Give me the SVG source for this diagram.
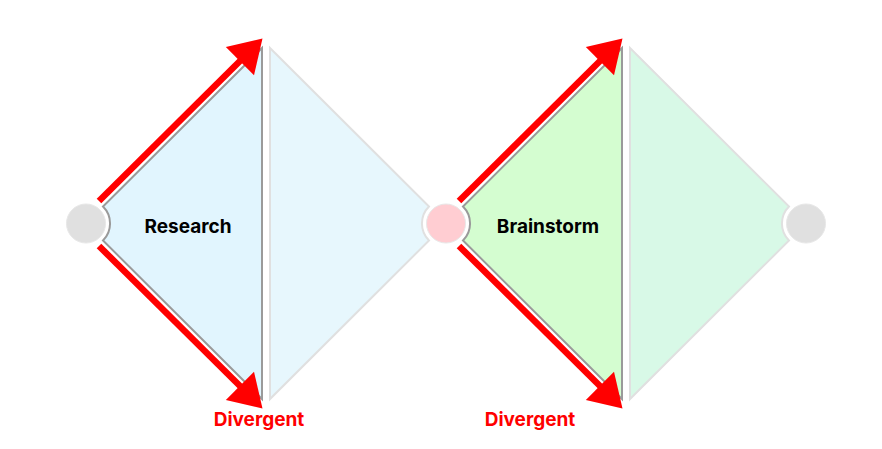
<svg xmlns="http://www.w3.org/2000/svg" width="882" height="449" viewBox="0 0 882 449">
  <style>
    .lt { stroke: #9a9a9a; stroke-width: 2; stroke-linejoin: miter; }
    .rt { stroke: #e0e0e0; stroke-width: 2; }
    .dot { stroke: #e8e8e8; stroke-width: 1; }
    .lbl { font-family: "Inter", "Liberation Sans", sans-serif; font-weight: 700; font-size: 19px; fill: #000000; text-anchor: middle; }
    .div { font-family: "Inter", "Liberation Sans", sans-serif; font-weight: 700; font-size: 19px; fill: #ff0000; text-anchor: middle; }
    .arr { stroke: #ff0000; stroke-width: 6.5; fill: none; }
    .head { fill: #ff0000; }
  </style>
  <rect width="882" height="449" fill="#ffffff"/>

  <g id="research-diverge">
    <path class="lt" fill="#e1f5fe" d="M262,48 L103,206.5 A24,24 0 0,1 103,240.5 L262,399 Z"/>
    <text class="lbl" x="188" y="233">Research</text>
  </g>
  <g id="research-converge">
    <path class="rt" fill="#e7f7fd" d="M270,48 L429,206.5 A24,24 0 0,0 429,240.5 L270,399 Z"/>
  </g>
  <g id="brainstorm-diverge">
    <path class="lt" fill="#d4fdd0" d="M622,48 L463,206.5 A24,24 0 0,1 463,240.5 L622,399 Z"/>
    <text class="lbl" x="548" y="233">Brainstorm</text>
  </g>
  <g id="brainstorm-converge">
    <path class="rt" fill="#d8f9e7" d="M630,48 L789,206.5 A24,24 0 0,0 789,240.5 L630,399 Z"/>
  </g>

  <g id="point-start"><circle class="dot" cx="86" cy="223.5" r="19.5" fill="#e0e0e0"/></g>
  <g id="point-mid"><circle class="dot" cx="446" cy="223.5" r="19.5" fill="#ffcdd2"/></g>
  <g id="point-end"><circle class="dot" cx="806" cy="223.5" r="19.5" fill="#e0e0e0"/></g>

  <g id="connectors">
    <line class="arr" x1="99" y1="201" x2="242" y2="59"/>
    <polygon class="head" points="262.5,38.5 254,75.3 225.8,47"/>
    <line class="arr" x1="99" y1="246" x2="242" y2="388"/>
    <polygon class="head" points="262.5,408.5 254,371.7 225.8,400"/>
    <line class="arr" x1="459" y1="201" x2="602" y2="59"/>
    <polygon class="head" points="622.5,38.5 614,75.3 585.8,47"/>
    <line class="arr" x1="459" y1="246" x2="602" y2="388"/>
    <polygon class="head" points="622.5,408.5 614,371.7 585.8,400"/>
  </g>

  <g id="labels">
    <text class="div" x="259" y="426">Divergent</text>
    <text class="div" x="530" y="426">Divergent</text>
  </g>
</svg>
